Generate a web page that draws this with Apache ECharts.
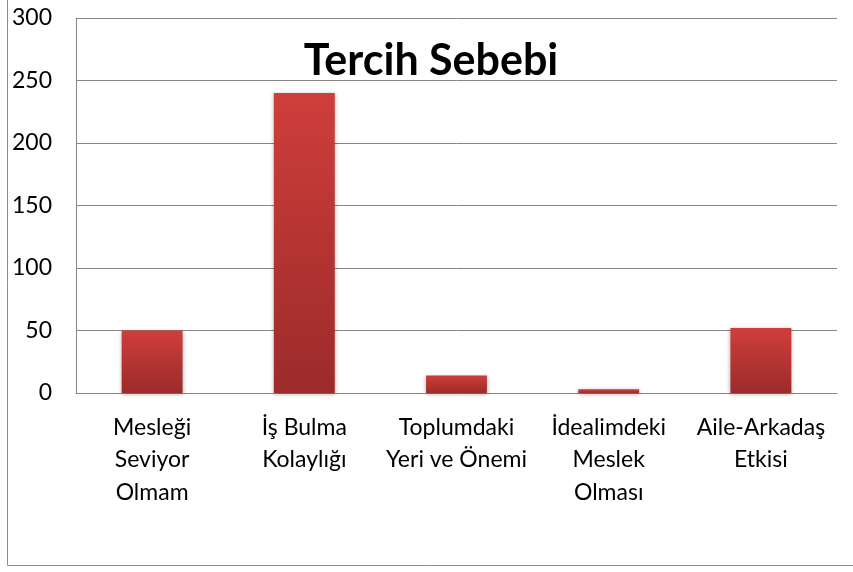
<!DOCTYPE html>
<html>
<head>
<meta charset="utf-8">
<script src="https://cdn.jsdelivr.net/npm/echarts@6/dist/echarts.min.js"></script>
<style>
html,body{margin:0;padding:0;background:#fff;}
#chart{width:853px;height:572px;}
</style>
</head>
<body>
<div id="chart"></div>
<script>
const categories = ['Mesleği\nSeviyor\nOlmam', 'İş Bulma\nKolaylığı', 'Toplumdaki\nYeri ve Önemi', 'İdealimdeki\nMeslek\nOlması', 'Aile-Arkadaş\nEtkisi'];
const values = [50, 240, 14, 3, 52];
const titleText = 'Tercih Sebebi';
const yMin = 0, yMax = 300, yStep = 50;

const chart = echarts.init(document.getElementById('chart'), null, {renderer: 'canvas'});
chart.setOption({
  animation: false,
  backgroundColor: '#fff',
  grid: {left: 76, right: 16, top: 18, bottom: 179, containLabel: false},
  xAxis: {
    type: 'category',
    data: categories,
    axisLine: {show: true, lineStyle: {color: '#868686', width: 1}},
    axisTick: {show: false},
    axisLabel: {interval: 0, color: '#000', fontFamily: 'Lato', fontSize: 23, lineHeight: 32.5, margin: 18}
  },
  yAxis: {
    type: 'value',
    min: yMin, max: yMax, interval: yStep,
    axisLine: {show: true, lineStyle: {color: '#868686', width: 1}},
    axisTick: {show: false},
    splitLine: {show: true, lineStyle: {color: '#868686', width: 1}},
    axisLabel: {color: '#000', fontFamily: 'Lato', fontSize: 23, margin: 24}
  },
  series: [{
    type: 'bar',
    data: values,
    barCategoryGap: '60%',
    itemStyle: {
      color: new echarts.graphic.LinearGradient(0, 0, 0, 1, [
        {offset: 0, color: '#cf3e3b'},
        {offset: 1, color: '#9b2b2a'}
      ]),
      shadowColor: 'rgba(0,0,0,0.35)',
      shadowBlur: 4,
      shadowOffsetY: 1
    }
  }],
  graphic: [
    {type: 'rect', silent: true, z: -1, shape: {x: 7.5, y: -0.5, width: 900, height: 566}, style: {fill: null, stroke: '#8c8c8c', lineWidth: 1}},
    {type: 'text', x: 431, y: 61, style: {text: titleText, fontFamily: 'Lato', fontWeight: 'bold', fontSize: 43, fill: '#000', textAlign: 'center', textVerticalAlign: 'middle'}}
  ]
});
</script>
</body>
</html>
